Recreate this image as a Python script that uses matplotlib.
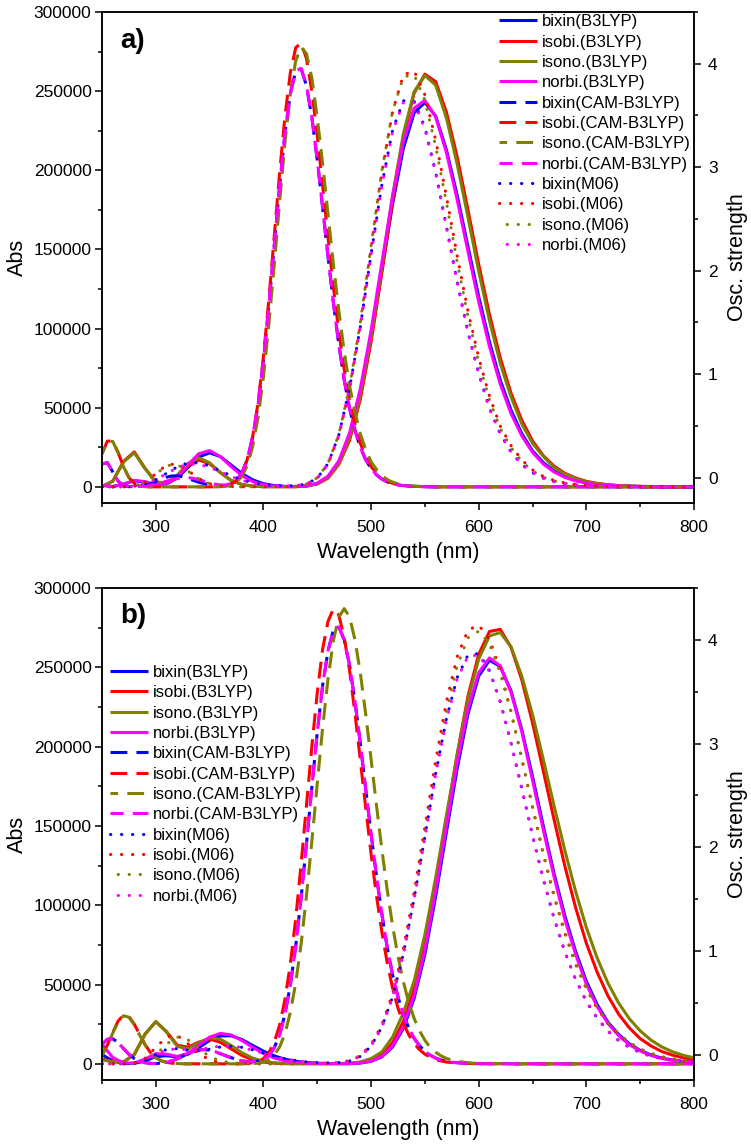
import numpy as np
import matplotlib
matplotlib.use("Agg")
import matplotlib.pyplot as plt
from matplotlib.ticker import MultipleLocator

plt.rcParams['font.family'] = ['Liberation Sans', 'DejaVu Sans']

# ---------------- x grids (nm) ----------------
wl10 = np.arange(250, 801, 10)                                   # B3LYP / M06 curves
wl_cam = np.concatenate([np.arange(250, 601, 5), [650, 700, 750, 800]])  # CAM-B3LYP curves

# ---------------- values in units of 1000 (Abs) ----------------
# ===== panel a =====
bixin_b3_a = [1.0, 0.2, 1.7, 3.9, 2.9, 1.1, 1.8, 5.7, 12.3, 18.9,
              21.5, 19.1, 13.8, 8.4, 4.4, 2.0, 0.8, 0.3, 0.2, 0.6,
              2.1, 6.2, 15.2, 32.1, 58.7, 94.6, 136.9, 178.8, 213.9, 236.3,
              242.9, 234.2, 212.8, 184.1, 151.8, 120.1, 91.5, 67.4, 48.5, 33.7,
              22.7, 15.3, 10.0, 6.4, 4.1, 2.6, 1.6, 1.0, 0.6, 0.4,
              0.2, 0.1, 0, 0, 0, 0]
isobi_b3_a = [0.2, 3.6, 16.1, 22.1, 11.7, 3.1, 2.1, 6.3, 13.2, 17.0,
              14.6, 9.0, 4.1, 1.5, 0.5, 0.1, 0.1, 0.1, 0.1, 0.5,
              1.8, 5.5, 14.2, 29.4, 55.3, 91.6, 135.2, 180.7, 220.9, 248.8,
              260.7, 256.0, 236.7, 208.4, 174.9, 140.5, 108.9, 81.5, 59.2, 42.1,
              29.0, 19.7, 13.1, 8.6, 5.6, 3.5, 2.2, 1.4, 0.8, 0.5,
              0.3, 0.2, 0.1, 0, 0, 0]
isono_b3_a = [0.2, 3.5, 15.7, 21.6, 11.5, 3.1, 2.5, 7.5, 14.9, 18.4,
              15.2, 9.0, 4.0, 1.4, 0.4, 0.1, 0.1, 0.1, 0.1, 0.5,
              2.0, 5.9, 14.9, 30.8, 57.5, 94.6, 138.6, 184.2, 223.1, 249.6,
              259.9, 253.8, 233.0, 203.8, 170.3, 136.2, 104.9, 78.1, 56.8, 39.8,
              27.5, 19.2, 12.2, 8.1, 5.2, 3.2, 2.0, 1.3, 0.8, 0.5,
              0.3, 0.2, 0.1, 0, 0, 0]
norbi_b3_a = [1.0, 0.1, 1.6, 4.1, 3.3, 1.4, 2.1, 6.4, 14.0, 21.0,
              22.9, 19.1, 12.8, 7.1, 3.3, 1.4, 0.5, 0.2, 0.2, 0.6,
              2.3, 6.8, 16.4, 34.1, 62.0, 98.8, 141.7, 183.7, 218.2, 239.2,
              244.2, 233.7, 211.2, 181.3, 148.7, 116.8, 88.6, 64.9, 46.3, 32.2,
              21.8, 14.4, 9.4, 6.0, 3.8, 2.4, 1.4, 0.9, 0.6, 0.3,
              0.2, 0.1, 0, 0, 0, 0]

bixin_cam_a = [14.4, 15.3, 9.4, 3.5, 0.9, 0.1, 0.2, 0.4, 1.0, 2.0,
               3.3, 4.8, 6.1, 6.9, 6.9, 6.4, 5.3, 4.1, 2.9, 2.0, 1.2, 0.7,
               0.6, 0.8, 1.8, 4.2, 8.7, 17.2, 31.4, 51.7, 80.0, 114.2, 152.1, 190.0,
               223.4, 248.4, 262.7, 264.1, 253.3, 233.2, 206.4, 176.2, 145.4, 116.1, 90.0, 67.6,
               49.4, 35.8, 24.9, 17.1, 11.6, 7.6, 4.9, 3.1, 2.0, 1.2, 0.8, 0.5,
               0.3, 0.2, 0.1, 0, 0, 0, 0, 0, 0, 0, 0, 0,
               0, 0, 0, 0, 0]
isobi_cam_a = [20.9, 28.9, 28.9, 21.7, 12.7, 5.9, 2.2, 0.7, 0.2, 0,
               0, 0, 0, 0, 0, 0, 0, 0, 0, 0, 0, 0,
               0.2, 0.6, 1.6, 4.1, 8.8, 17.5, 31.8, 53.1, 82.3, 118.1, 158.0, 198.3,
               234.2, 261.7, 277.5, 280.4, 270.5, 249.8, 222.0, 190.1, 157.4, 126.2, 98.1, 74.2,
               54.5, 39.3, 27.5, 19.0, 12.8, 8.6, 5.5, 3.5, 2.2, 1.4, 0.9, 0.5,
               0.3, 0.2, 0.1, 0, 0, 0, 0, 0, 0, 0, 0, 0,
               0, 0, 0, 0, 0]
isono_cam_a = [20.8, 28.7, 28.7, 21.5, 12.6, 5.9, 2.2, 0.7, 0.2, 0,
               0, 0, 0, 0, 0, 0, 0, 0, 0, 0, 0, 0,
               0.1, 0.4, 1.1, 2.9, 6.6, 13.5, 25.6, 43.9, 69.5, 102.3, 140.1, 179.9,
               217.7, 248.3, 269.4, 277.8, 273.6, 258.1, 233.2, 204.2, 172.1, 140.4, 111.5, 85.6,
               63.9, 47.3, 33.4, 23.4, 15.8, 11.0, 7.2, 4.6, 3.0, 1.9, 1.2, 0.8,
               0.5, 0.3, 0.2, 0.1, 0, 0, 0, 0, 0, 0, 0, 0,
               0, 0, 0, 0, 0]
norbi_cam_a = [14.4, 15.3, 9.4, 3.5, 0.9, 0.1, 0.1, 0.3, 0.6, 1.0,
               1.7, 2.6, 3.6, 4.5, 5.2, 6.0, 5.9, 5.3, 4.5, 3.5, 2.5, 1.7,
               1.2, 1.2, 2.1, 4.2, 8.7, 17.3, 31.5, 51.9, 80.2, 114.4, 152.3, 190.2,
               223.6, 248.6, 262.9, 264.4, 253.6, 233.5, 206.7, 176.5, 145.7, 116.4, 90.2, 67.8,
               49.6, 35.9, 25.0, 17.2, 11.6, 7.6, 4.9, 3.1, 2.0, 1.2, 0.8, 0.5,
               0.3, 0.2, 0.1, 0, 0, 0, 0, 0, 0, 0, 0, 0,
               0, 0, 0, 0, 0]

bixin_m06_a = [0, 0, 0.1, 0.5, 1.8, 4.5, 8.6, 12.7, 15.2, 15.2,
               13.2, 10.1, 7.0, 4.4, 2.6, 1.5, 0.8, 0.6, 0.7, 1.8,
               5.5, 14.7, 32.7, 62.4, 101.2, 147.0, 190.8, 225.5, 243.9, 243.6,
               227.1, 198.8, 164.6, 129.5, 97.7, 71.6, 49.6, 33.5, 22.1, 14.1,
               8.9, 5.5, 3.3, 2.0, 1.2, 0.7, 0.4, 0.2, 0.1, 0,
               0, 0, 0, 0, 0, 0]
isobi_m06_a = [0, 0, 0, 0.5, 2.8, 8.3, 13.9, 14.5, 10.2, 5.2,
               2.0, 0.6, 0.2, 0, 0, 0, 0.1, 0.2, 0.4, 1.7,
               5.5, 14.4, 32.3, 61.6, 102.2, 150.7, 198.6, 237.1, 260.3, 262.8,
               247.6, 219.1, 183.5, 146.0, 111.1, 81.6, 57.2, 38.4, 26.1, 17.0,
               10.7, 6.6, 4.1, 2.5, 1.5, 0.8, 0.5, 0.3, 0.1, 0,
               0, 0, 0, 0, 0, 0]
isono_m06_a = [0, 0, 0, 0.5, 2.7, 8.0, 13.4, 14.0, 9.9, 5.0,
               1.9, 0.6, 0.2, 0, 0, 0, 0.1, 0.2, 0.5, 1.8,
               5.7, 14.9, 33.1, 63.2, 104.1, 152.6, 199.8, 237.4, 259.1, 260.3,
               244.2, 215.1, 179.5, 142.0, 107.7, 78.9, 54.9, 36.9, 24.9, 16.0,
               10.1, 6.1, 3.8, 2.3, 1.3, 0.8, 0.5, 0.3, 0.1, 0,
               0, 0, 0, 0, 0, 0]
norbi_m06_a = [0, 0, 0.1, 0.5, 1.8, 4.5, 8.3, 12.2, 14.3, 14.2,
               12.3, 9.4, 6.5, 4.1, 2.4, 1.3, 0.7, 0.6, 0.7, 1.8,
               5.4, 14.6, 32.6, 62.1, 100.8, 146.4, 190.0, 224.6, 242.9, 242.6,
               226.2, 198.0, 163.9, 129.0, 97.3, 71.3, 49.4, 33.4, 22.0, 14.0,
               8.9, 5.5, 3.3, 2.0, 1.2, 0.7, 0.4, 0.2, 0.1, 0,
               0, 0, 0, 0, 0, 0]

# ===== panel b =====
bixin_b3_b = [5.8, 1.8, 0.1, 0.3, 1.8, 4.6, 5.1, 4.4, 6.1, 10.2,
              14.8, 17.6, 17.7, 15.3, 11.6, 8.0, 5.0, 2.9, 1.6, 0.8,
              0.4, 0.2, 0.1, 0.1, 0.5, 1.6, 4.4, 10.7, 22.4, 41.4,
              69.1, 105.6, 146.2, 186.2, 220.6, 244.5, 254.5, 250.5, 235.1, 210.6,
              181.1, 149.9, 119.9, 93.3, 70.9, 52.0, 37.4, 26.3, 18.5, 12.6,
              8.5, 5.6, 3.6, 2.4, 1.5, 1.0]
isobi_b3_b = [3.0, 1.5, 1.2, 5.9, 18.7, 26.6, 20.3, 11.7, 10.5, 13.7,
              15.6, 13.6, 9.4, 5.3, 2.5, 1.1, 0.4, 0.1, 0.1, 0.1,
              0.1, 0.1, 0.2, 0.3, 0.9, 2.4, 5.9, 13.3, 26.7, 47.3,
              76.5, 113.1, 154.3, 195.3, 231.8, 258.2, 272.6, 273.9, 262.6, 242.1,
              215.0, 184.6, 153.9, 124.7, 98.5, 76.0, 57.8, 42.9, 31.3, 22.6,
              15.9, 11.3, 7.8, 5.5, 3.8, 2.5]
isono_b3_b = [2.5, 1.2, 1.1, 5.9, 18.7, 26.6, 20.0, 11.0, 9.5, 13.3,
              16.4, 15.5, 11.6, 7.0, 3.6, 1.6, 0.6, 0.2, 0.1, 0.1,
              0.1, 0.1, 0.2, 0.3, 1.2, 3.3, 7.5, 16.9, 32.2, 52.2,
              81.5, 117.4, 156.7, 194.8, 229.7, 255.2, 269.8, 271.9, 263.0, 244.4,
              220.2, 191.9, 162.7, 134.6, 108.8, 85.9, 66.8, 51.0, 38.3, 28.4,
              20.8, 15.0, 10.7, 7.6, 5.4, 3.8]
norbi_b3_b = [12.3, 4.0, 0.5, 0.5, 3.0, 6.4, 6.1, 4.6, 6.7, 11.8,
              16.8, 19.2, 18.2, 14.7, 10.4, 6.5, 3.7, 1.9, 0.9, 0.4,
              0.2, 0.1, 0.1, 0.1, 0.5, 1.7, 4.7, 11.2, 23.6, 43.3,
              71.7, 109.1, 150.0, 190.0, 223.7, 246.7, 255.9, 250.9, 234.2, 209.4,
              178.7, 147.5, 117.8, 91.1, 69.1, 50.2, 36.1, 25.5, 17.8, 12.0,
              8.1, 5.3, 3.4, 2.2, 1.4, 0.9]

bixin_cam_b = [12.3, 15.5, 15.8, 13.4, 9.6, 6.0, 3.3, 1.6, 0.7, 0.3,
               0.1, 0.5, 1.0, 1.9, 3.2, 4.8, 6.4, 7.8, 8.7, 9.0, 8.6, 7.7,
               6.4, 5.1, 3.9, 2.8, 1.9, 1.4, 1.4, 1.6, 2.6, 5.2, 10.1, 18.2,
               31.4, 49.7, 74.2, 104.7, 139.0, 174.7, 208.9, 238.7, 260.5, 273.4, 275.6, 267.4,
               251.4, 228.5, 202.0, 173.3, 144.9, 118.4, 94.4, 73.4, 56.0, 42.1, 31.1, 22.5,
               16.1, 11.4, 7.9, 5.4, 3.6, 2.4, 1.5, 1.0, 0.7, 0.4, 0.3, 0.2,
               0.1, 0, 0, 0, 0]
isobi_cam_b = [5.6, 11.8, 19.7, 27.0, 30.8, 29.9, 25.0, 18.4, 12.1, 7.1,
               3.8, 1.9, 0.9, 0.4, 0.2, 0, 0, 0, 0, 0, 0, 0,
               0, 0, 0, 0, 0.1, 0.2, 0.7, 1.5, 3.3, 7.0, 13.6, 24.4,
               40.7, 62.9, 91.6, 126.1, 163.2, 200.4, 234.0, 261.5, 279.0, 286.9, 283.0, 268.9,
               248.1, 221.1, 191.4, 161.3, 132.4, 106.0, 83.1, 63.6, 47.6, 35.1, 25.5, 18.3,
               12.8, 8.9, 6.1, 4.1, 2.7, 1.8, 1.1, 0.8, 0.5, 0.3, 0.2, 0.1,
               0.1, 0, 0, 0, 0]
isono_cam_b = [5.5, 11.6, 19.4, 26.6, 30.3, 29.4, 24.6, 18.1, 11.9, 7.0,
               3.7, 1.9, 0.9, 0.4, 0.2, 0, 0, 0, 0, 0, 0, 0,
               0, 0, 0, 0, 0, 0, 0.2, 0.4, 1.1, 2.6, 5.5, 10.6,
               19.1, 32.5, 51.1, 75.6, 106.2, 140.6, 176.8, 212.0, 242.9, 266.9, 281.6, 287.0,
               281.8, 267.3, 246.5, 220.4, 192.0, 163.0, 135.1, 109.6, 86.9, 67.7, 51.7, 38.7,
               28.6, 20.8, 14.8, 10.3, 7.3, 5.0, 3.4, 2.3, 1.5, 1.1, 0.7, 0.4,
               0.3, 0, 0, 0, 0]
norbi_cam_b = [12.3, 15.5, 15.8, 13.4, 9.6, 6.0, 3.3, 1.6, 0.7, 0.3,
               0.1, 0.5, 1.0, 1.9, 3.2, 4.8, 6.4, 7.8, 8.7, 9.0, 8.6, 7.7,
               6.4, 5.1, 3.9, 2.8, 1.9, 1.4, 1.4, 1.6, 2.6, 5.2, 10.1, 18.2,
               31.4, 49.7, 74.2, 104.7, 139.0, 174.7, 208.9, 238.7, 260.5, 273.4, 275.6, 267.4,
               251.4, 228.5, 202.0, 173.3, 144.9, 118.4, 94.4, 73.4, 56.0, 42.1, 31.1, 22.5,
               16.1, 11.4, 7.9, 5.4, 3.6, 2.4, 1.5, 1.0, 0.7, 0.4, 0.3, 0.2,
               0.1, 0, 0, 0, 0]

bixin_m06_b = [0, 0, 0, 0.4, 2.1, 5.8, 9.1, 9.6, 8.5, 8.2,
               9.2, 10.6, 11.0, 10.4, 8.8, 6.8, 4.9, 3.2, 2.1, 1.2,
               0.7, 0.6, 0.8, 1.8, 4.7, 11.2, 23.2, 42.3, 69.4, 104.3,
               143.3, 183.0, 217.6, 243.6, 257.8, 258.7, 248.0, 228.5, 202.4, 173.7,
               144.0, 116.4, 91.8, 70.6, 53.2, 39.3, 28.9, 20.6, 14.7, 10.3,
               7.2, 4.8, 3.3, 2.2, 1.5, 1.0]
isobi_m06_b = [0, 0, 0, 0.6, 3.5, 10.2, 17.1, 17.9, 12.6, 6.4,
               2.5, 0.7, 0.2, 0, 0, 0, 0, 0, 0, 0.1,
               0.1, 0.2, 0.6, 2.0, 5.2, 12.1, 24.4, 44.3, 72.6, 108.4,
               149.4, 191.1, 228.4, 256.7, 273.4, 276.6, 267.6, 248.1, 222.2, 192.4,
               161.6, 132.0, 105.4, 82.3, 62.8, 47.2, 35.0, 25.5, 18.3, 13.0,
               9.3, 6.4, 4.4, 3.1, 2.2, 1.4]
isono_m06_b = [0, 0, 0, 0.2, 1.4, 5.7, 12.5, 16.9, 15.1, 9.6,
               4.6, 1.8, 0.6, 0.2, 0, 0, 0, 0, 0, 0.1,
               0.1, 0.2, 0.5, 1.9, 4.9, 11.4, 23.0, 42.1, 69.4, 104.3,
               144.3, 185.4, 222.4, 251.0, 268.6, 272.8, 264.9, 246.5, 221.7, 192.6,
               162.3, 133.1, 106.5, 83.5, 64.2, 48.0, 35.8, 26.2, 19.1, 13.5,
               9.4, 6.6, 4.5, 3.2, 2.2, 1.5]
norbi_m06_b = [0, 0, 0, 0.4, 2.0, 5.5, 8.8, 9.5, 8.8, 9.0,
               10.2, 11.2, 11.2, 10.3, 8.6, 6.6, 4.7, 3.1, 2.0, 1.1,
               0.6, 0.5, 0.8, 1.8, 4.7, 11.1, 23.0, 42.0, 69.0, 103.7,
               142.6, 182.3, 216.8, 242.7, 256.9, 257.8, 247.3, 227.9, 202.0, 173.4,
               143.8, 116.3, 91.8, 70.6, 53.2, 39.3, 28.9, 20.6, 14.7, 10.3,
               7.2, 4.8, 3.3, 2.2, 1.5, 1.0]

UNIT = 1000.0

molecules = ['bixin', 'isobi.', 'isono.', 'norbi.']
colors = ['#0000FF', '#FF0000', '#808000', '#FF00FF']
methods = ['B3LYP', 'CAM-B3LYP', 'M06']

panel_a = {
    'B3LYP': [bixin_b3_a, isobi_b3_a, isono_b3_a, norbi_b3_a],
    'CAM-B3LYP': [bixin_cam_a, isobi_cam_a, isono_cam_a, norbi_cam_a],
    'M06': [bixin_m06_a, isobi_m06_a, isono_m06_a, norbi_m06_a],
}
panel_b = {
    'B3LYP': [bixin_b3_b, isobi_b3_b, isono_b3_b, norbi_b3_b],
    'CAM-B3LYP': [bixin_cam_b, isobi_cam_b, isono_cam_b, norbi_cam_b],
    'M06': [bixin_m06_b, isobi_m06_b, isono_m06_b, norbi_m06_b],
}
xgrid = {'B3LYP': wl10, 'CAM-B3LYP': wl_cam, 'M06': wl10}

for pdata in (panel_a, panel_b):
    for m in methods:
        for arr in pdata[m]:
            if len(arr) != len(xgrid[m]):
                raise ValueError(f"{m}: {len(arr)} vs {len(xgrid[m])}")

LW = 2.2
DASH_OFF = [0.0, 0.0, 3.0, 1.2]
DOT_OFF = [0.0, 0.0, 1.1, 1.1]
def style(method, i):
    if method == 'B3LYP':
        return dict(linestyle='-', solid_capstyle='butt')
    if method == 'CAM-B3LYP':
        return dict(linestyle=(DASH_OFF[i], (5.5, 3.0)), dash_capstyle='butt')
    return dict(linestyle=(DOT_OFF[i], (0.1, 3.5)), dash_capstyle='round')

W, H = 751, 1145
fig = plt.figure(figsize=(W / 100, H / 100), dpi=100)
ax_a = fig.add_axes([102 / W, 1 - 503 / H, 592 / W, 491 / H])
ax_b = fig.add_axes([102 / W, 1 - 1080 / H, 592 / W, 492 / H])

TICK_FS = 12.5
LABEL_FS = 15.5

def setup(ax, pdata, tag, leg_anchor, tag_y):
    for m in methods:
        for i, arr in enumerate(pdata[m]):
            ax.plot(xgrid[m], np.asarray(arr) * UNIT, color=colors[i], lw=LW,
                    label=f"{molecules[i]}({m})", **style(m, i))
    ax.set_xlim(250, 800)
    ax.set_ylim(-10200, 300000)
    ax.xaxis.set_major_locator(MultipleLocator(100))
    ax.xaxis.set_minor_locator(MultipleLocator(50))
    ax.yaxis.set_major_locator(MultipleLocator(50000))
    ax.yaxis.set_minor_locator(MultipleLocator(25000))
    ax.tick_params(axis='both', which='both', direction='out', top=False, right=False,
                   labelsize=TICK_FS, width=1.1)
    ax.tick_params(axis='both', which='major', length=5)
    ax.tick_params(axis='both', which='minor', length=3)
    ax.tick_params(axis='x', pad=7)
    ax.tick_params(axis='y', pad=2.5)
    for s in ax.spines.values():
        s.set_linewidth(1.1)
    ax.set_xlabel('Wavelength (nm)', fontsize=LABEL_FS, labelpad=5)
    ax.set_ylabel('Abs', fontsize=LABEL_FS, labelpad=4)
    ax.text(0.0304, tag_y, tag, transform=ax.transAxes, fontsize=20,
            fontweight='bold', ha='left', va='baseline')

    axr = ax.twinx()
    axr.set_ylim(-0.245, 4.5)
    axr.yaxis.set_major_locator(MultipleLocator(1))
    axr.yaxis.set_minor_locator(MultipleLocator(0.5))
    axr.tick_params(axis='y', which='both', direction='out', labelsize=TICK_FS, width=1.1, pad=5)
    axr.tick_params(axis='y', which='major', length=5)
    axr.tick_params(axis='y', which='minor', length=3)
    for s in axr.spines.values():
        s.set_linewidth(1.1)
    axr.set_ylabel('Osc. strength', fontsize=LABEL_FS, labelpad=7)

    ax.legend(loc='upper left', bbox_to_anchor=leg_anchor, frameon=False,
              fontsize=12, handlelength=2.3, handletextpad=0.25,
              labelspacing=0.32, borderaxespad=0.0, borderpad=0.0)
    return axr

setup(ax_a, panel_a, 'a)', (0.6706, 0.9953), 0.926)
setup(ax_b, panel_b, 'b)', (0.0135, 0.8435), 0.929)

fig.savefig('out.png', dpi=100)
